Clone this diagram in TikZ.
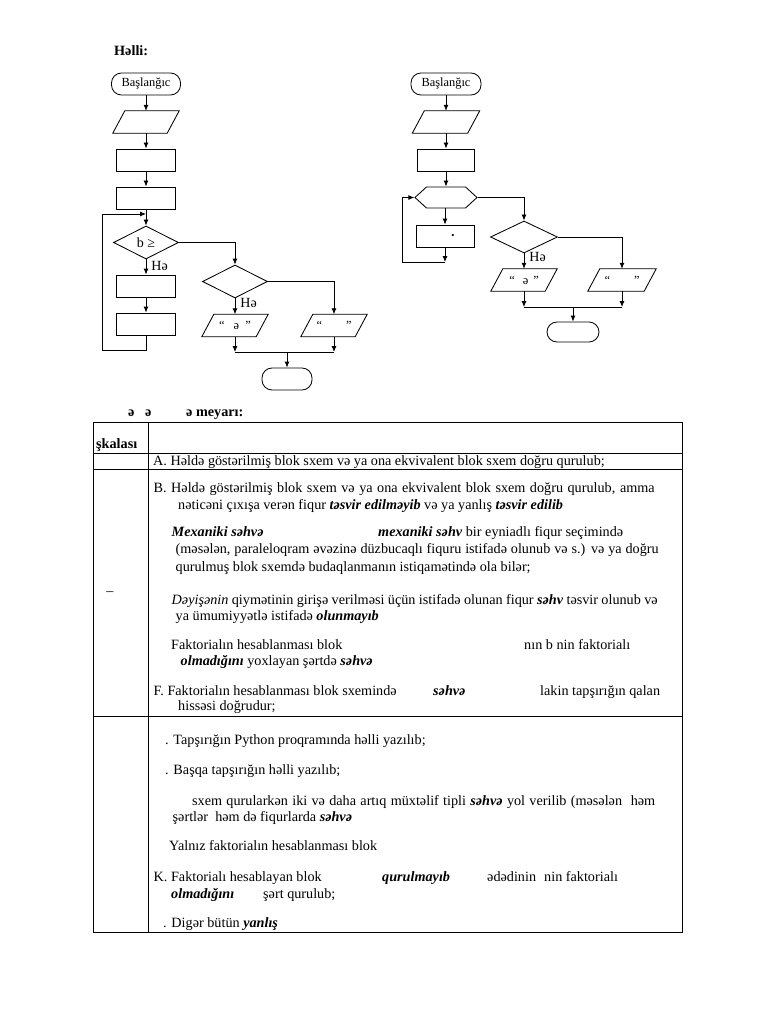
\documentclass[tikz,border=0pt]{standalone}
\usepackage{fontspec}
\setmainfont{Liberation Serif}
\usetikzlibrary{shapes.geometric,shapes.symbols,arrows.meta}
\newcommand\fsflow{\fontsize{12.4}{14}\selectfont}
\newcommand\fslab{\fontsize{14}{16}\selectfont}
\newcommand\fstab{\fontsize{14.2}{16}\selectfont}
\newcommand\bi[1]{\textbf{\textit{#1}}}
\newcommand\jline[2]{\makebox[#1][s]{#2}}
\newcommand\drawpara[1]{\draw[fl] ([xshift=6pt]#1.north west) -- ([xshift=6pt]#1.north east) -- ([xshift=-6pt]#1.south east) -- ([xshift=-6pt]#1.south west) -- cycle;}
\begin{document}
\begin{tikzpicture}[x=1pt,y=-1pt,
  fl/.style={line width=0.85pt},
  arr/.style={fl,-{Latex[length=6pt,width=5pt]}},
  term/.style={fl,draw,rounded corners=10pt,minimum width=#1,minimum height=22pt,inner sep=0pt,font=\fsflow},
  proc/.style={fl,draw,rectangle,minimum width=#1,minimum height=22pt,inner sep=0pt,font=\fsflow},
  io/.style={rectangle,minimum width=#1,minimum height=22pt,inner sep=0pt,font=\fsflow},
  dec/.style={fl,draw,diamond,minimum width=#1,minimum height=33pt,inner sep=0pt,font=\fsflow},
  hexa/.style={fl,draw,signal,signal to=west and east,signal pointer angle=85,minimum width=62pt,minimum height=21pt,inner sep=0pt},
  yes/.style={font=\fslab,anchor=west,inner sep=0pt,xshift=5pt},
  tx/.style={anchor=base west,inner sep=0pt,font=\fstab},
  tbl/.style={line width=0.7pt}
]
\useasboundingbox (0,0) rectangle (768,1024);

% ---------------- heading
\node[tx] (hl) at (114,56) {\bfseries Həlli:};

% ---------------- flowchart 1
\node[term=69pt] (s1) at (146,84) {Başlanğıc};
\node[io=54pt]   (p1) at (146,122) {};
\node[proc=59pt] (r1) at (146,160) {};
\node[proc=59pt] (r2) at (146,198) {};
\node[dec=65pt,font=\fslab]  (d1) at (146,242.5) {b ≥};
\node[proc=59pt] (r3) at (146,286) {};
\node[proc=59pt] (r4) at (146,324) {};
\node[dec=65pt]  (d2) at (235,281.5) {};
\node[io=54pt]   (o1) at (235,325.5) {“\hspace{9pt}ə\hspace{6pt}”};
\node[io=54pt]   (o2) at (334,325.5) {“\hspace{24pt}”};
\node[term=50pt] (e1) at (287,379) {};
\drawpara{p1}\drawpara{o1}\drawpara{o2}

\coordinate (j1) at (146,214);
\coordinate (lb) at (146,350);
\coordinate (lt) at (102,214);
\coordinate (m1) at (235,352);
\coordinate (m2) at (334,352);
\coordinate (mm) at (287,352);

\draw[arr] (s1) -- (p1);
\draw[arr] (p1) -- (r1);
\draw[arr] (r1) -- (r2);
\draw[arr] (r2) -- (d1);
\draw[arr] (d1) -- node[yes,pos=0.44]{Hə} (r3);
\draw[arr] (r3) -- (r4);
\draw[arr] (r4) -- (lb) -| (lt) -- (j1);
\draw[arr] (d1.east) -| (d2.north);
\draw[arr] (d2.south) -- node[yes,pos=0.3]{Hə} (o1.north);
\draw[arr] (d2.east) -| (o2.north);
\draw[arr] (o1.south) -- (m1);
\draw[arr] (o2.south) -- (m2);
\draw[fl] (m1) -- (m2);
\draw[arr] (mm) -- (e1);

% ---------------- flowchart 2
\node[term=70pt] (s2) at (446,84) {Başlanğıc};
\node[io=55pt]   (p2) at (446,122) {};
\node[proc=57pt] (r5) at (446,160) {};
\node[hexa]      (h1) at (446,197.5) {};
\node[proc=58pt] (r6) at (445,236) {\hspace{16pt}\fontsize{9}{10}\selectfont •};
\node[dec=67pt,minimum height=32pt] (d3) at (524,237) {};
\node[io=54pt]   (o3) at (524,280) {“\hspace{8pt}ə\hspace{5pt}”};
\node[io=56pt]   (o4) at (622,280) {“\hspace{24pt}”};
\node[term=52pt,minimum height=20pt] (e2) at (573,332) {};
\drawpara{p2}\drawpara{o3}\drawpara{o4}

\coordinate (lb2) at (445,262);
\coordinate (lt2) at (402,197.5);
\coordinate (m3) at (524,307);
\coordinate (m4) at (622,307);
\coordinate (mm2) at (573,307);

\draw[arr] (s2) -- (p2);
\draw[arr] (p2) -- (r5);
\draw[arr] (r5) -- (h1);
\draw[arr] (h1.south -| r6.north) -- (r6.north);
\draw[arr] (r6.south) -- (lb2);
\draw[arr] (lb2) -| (lt2) -- (h1.west);
\draw[arr] (h1.east) -| (d3.north);
\draw[arr] (d3.south) -- node[yes,pos=0.25]{Hə} (o3.north);
\draw[arr] (d3.east) -| (o4.north);
\draw[arr] (o3.south) -- (m3);
\draw[arr] (o4.south) -- (m4);
\draw[fl] (m3) -- (m4);
\draw[arr] (mm2) -- (e2);

% ---------------- criteria heading
\node[tx] (c1) at (128,416) {\bfseries ə};
\node[tx] (c2) at (145,416) {\bfseries ə};
\node[tx] (c3) at (186,416) {\bfseries ə meyarı:};

% ---------------- table
\draw[tbl] (93,422) rectangle (682,932);
\draw[tbl] (148,422) -- (148,932);
\draw[tbl] (93,453) -- (682,453);
\draw[tbl] (93,469) -- (682,469);
\draw[tbl] (93,716) -- (682,716);

\node[tx] (k0) at (96,448) {\bfseries şkalası};
\node[tx] (ta) at (153,465) {A. Həldə göstərilmiş blok sxem və ya ona ekvivalent blok sxem doğru qurulub;};

\node[tx] (tb1) at (153.5,492) {\jline{501pt}{B. Həldə göstərilmiş blok sxem və ya ona ekvivalent blok sxem doğru qurulub, amma}};
\node[tx] (tb2) at (178,509) {nəticəni çıxışa verən fiqur \bi{təsvir edilməyib} və ya yanlış \bi{təsvir edilib}};
\node[tx] (tc1) at (171.5,536) {\bi{Mexaniki səhvə}};
\node[tx] (tc2) at (378,536) {\bi{mexaniki səhv} bir eyniadlı fiqur seçimində};
\node[tx] (tc3) at (175.5,553) {\jline{483pt}{(məsələn, paraleloqram əvəzinə düzbucaqlı fiquru istifadə olunub və s.) və ya doğru}};
\node[tx] (tc4) at (175.5,571) {qurulmuş blok sxemdə budaqlanmanın istiqamətində ola bilər;};
\node[font=\fstab,inner sep=0pt] (dash) at (110,594) {–};
\node[tx] (td1) at (171.5,604) {\jline{486pt}{\textit{Dəyişənin} qiymətinin girişə verilməsi üçün istifadə olunan fiqur \bi{səhv} təsvir olunub və}};
\node[tx] (td2) at (175.5,620) {ya ümumiyyətlə istifadə \bi{olunmayıb}};
\node[tx] (te1) at (171,649) {Faktorialın hesablanması blok};
\node[tx] (te2) at (524,649) {nın b nin faktorialı};
\node[tx] (te3) at (180.5,665) {\bi{olmadığını} yoxlayan şərtdə \bi{səhvə}};
\node[tx] (tf1) at (153.5,695) {F. Faktorialın hesablanması blok sxemində};
\node[tx] (tf2) at (433,695) {\bi{səhvə}};
\node[tx] (tf3) at (540,695) {lakin tapşırığın qalan};
\node[tx] (tf4) at (178,710) {hissəsi doğrudur;};

\node[tx] (tg1) at (165,744) {. Tapşırığın Python proqramında həlli yazılıb;};
\node[tx] (tg2) at (165,774) {. Başqa tapşırığın həlli yazılıb;};
\node[tx] (th1) at (192,805) {\jline{463pt}{sxem qurularkən iki və daha artıq müxtəlif tipli \bi{səhvə} yol verilib (məsələn\ \ həm}};
\node[tx] (th2) at (172.5,821) {şərtlər\ \ həm də fiqurlarda \bi{səhvə}};
\node[tx] (ti1) at (169,850) {Yalnız faktorialın hesablanması blok};
\node[tx] (tk1) at (153.5,881) {K. Faktorialı hesablayan blok};
\node[tx] (tk2) at (382,881) {\bi{qurulmayıb}};
\node[tx] (tk3) at (487,881) {ədədinin};
\node[tx] (tk4) at (544,881) {nin faktorialı};
\node[tx] (tk5) at (171,898) {\bi{olmadığını}};
\node[tx] (tk6) at (263,898) {şərt qurulub;};
\node[tx] (tl1) at (163,927) {. Digər bütün \bi{yanlış}};
\end{tikzpicture}
\end{document}
